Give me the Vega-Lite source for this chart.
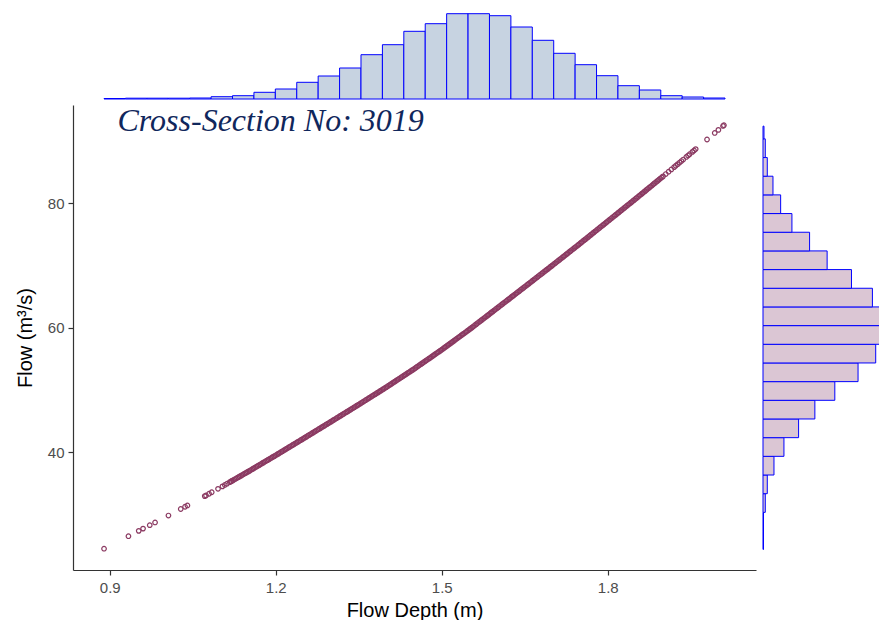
{
  "$schema": "https://vega.github.io/schema/vega-lite/v6.json",
  "background": "white",
  "padding": {"left": 15, "top": 0, "right": 0, "bottom": 0},
  "spacing": 5,
  "config": {
    "view": {"stroke": null},
    "font": "Liberation Sans",
    "axis": {
      "grid": false,
      "domainColor": "#333333",
      "domainWidth": 1.2,
      "tickColor": "#333333",
      "tickWidth": 1.2,
      "tickSize": 5,
      "labelColor": "#4D4D4D",
      "labelFont": "Liberation Sans",
      "labelFontSize": 15,
      "labelPadding": 4,
      "titleFont": "Liberation Sans",
      "titleFontSize": 20,
      "titleFontWeight": "normal",
      "titleColor": "#000000"
    }
  },
  "datasets": {
    "xhist": [
      {"x0": 0.8897, "x1": 0.9284, "count": 5},
      {"x0": 0.9284, "x1": 0.9671, "count": 8},
      {"x0": 0.9671, "x1": 1.0058, "count": 8},
      {"x0": 1.0058, "x1": 1.0445, "count": 8},
      {"x0": 1.0445, "x1": 1.0832, "count": 10},
      {"x0": 1.0832, "x1": 1.1219, "count": 23},
      {"x0": 1.1219, "x1": 1.1606, "count": 33},
      {"x0": 1.1606, "x1": 1.1993, "count": 67},
      {"x0": 1.1993, "x1": 1.2380, "count": 100},
      {"x0": 1.2380, "x1": 1.2767, "count": 167},
      {"x0": 1.2767, "x1": 1.3154, "count": 230},
      {"x0": 1.3154, "x1": 1.3541, "count": 310},
      {"x0": 1.3541, "x1": 1.3928, "count": 443},
      {"x0": 1.3928, "x1": 1.4315, "count": 543},
      {"x0": 1.4315, "x1": 1.4702, "count": 677},
      {"x0": 1.4702, "x1": 1.5089, "count": 753},
      {"x0": 1.5089, "x1": 1.5476, "count": 853},
      {"x0": 1.5476, "x1": 1.5863, "count": 853},
      {"x0": 1.5863, "x1": 1.6250, "count": 833},
      {"x0": 1.6250, "x1": 1.6637, "count": 720},
      {"x0": 1.6637, "x1": 1.7024, "count": 587},
      {"x0": 1.7024, "x1": 1.7411, "count": 457},
      {"x0": 1.7411, "x1": 1.7798, "count": 343},
      {"x0": 1.7798, "x1": 1.8185, "count": 233},
      {"x0": 1.8185, "x1": 1.8572, "count": 133},
      {"x0": 1.8572, "x1": 1.8959, "count": 90},
      {"x0": 1.8959, "x1": 1.9346, "count": 33},
      {"x0": 1.9346, "x1": 1.9733, "count": 20},
      {"x0": 1.9733, "x1": 2.0120, "count": 10}
    ],
    "yhist": [
      {"y0": 24.40, "y1": 27.36, "count": 5},
      {"y0": 27.36, "y1": 30.36, "count": 5},
      {"y0": 30.36, "y1": 33.36, "count": 23},
      {"y0": 33.36, "y1": 36.36, "count": 43},
      {"y0": 36.36, "y1": 39.36, "count": 110},
      {"y0": 39.36, "y1": 42.36, "count": 210},
      {"y0": 42.36, "y1": 45.36, "count": 357},
      {"y0": 45.36, "y1": 48.36, "count": 520},
      {"y0": 48.36, "y1": 51.36, "count": 720},
      {"y0": 51.36, "y1": 54.36, "count": 953},
      {"y0": 54.36, "y1": 57.36, "count": 1130},
      {"y0": 57.36, "y1": 60.36, "count": 1173},
      {"y0": 60.36, "y1": 63.36, "count": 1173},
      {"y0": 63.36, "y1": 66.36, "count": 1097},
      {"y0": 66.36, "y1": 69.36, "count": 887},
      {"y0": 69.36, "y1": 72.36, "count": 643},
      {"y0": 72.36, "y1": 75.36, "count": 467},
      {"y0": 75.36, "y1": 78.36, "count": 290},
      {"y0": 78.36, "y1": 81.36, "count": 177},
      {"y0": 81.36, "y1": 84.36, "count": 100},
      {"y0": 84.36, "y1": 87.36, "count": 43},
      {"y0": 87.36, "y1": 90.36, "count": 23},
      {"y0": 90.36, "y1": 92.40, "count": 10}
    ],
    "scatter": [
      {"depth":0.8897,"flow":24.52},{"depth":0.9338,"flow":26.53},{"depth":0.9524,"flow":27.39},{"depth":0.9602,"flow":27.75},
      {"depth":0.9723,"flow":28.30},{"depth":0.9819,"flow":28.74},{"depth":1.0061,"flow":29.85},{"depth":1.0283,"flow":30.90},
      {"depth":1.0361,"flow":31.26},{"depth":1.0404,"flow":31.47},{"depth":1.0717,"flow":32.97},{"depth":1.0740,"flow":33.08},
      {"depth":1.0795,"flow":33.35},{"depth":1.0843,"flow":33.59},{"depth":1.0957,"flow":34.14},{"depth":1.1037,"flow":34.54},
      {"depth":1.1080,"flow":34.76},{"depth":1.1120,"flow":34.96},{"depth":1.1169,"flow":35.21},{"depth":1.1190,"flow":35.32},
      {"depth":1.1200,"flow":35.37},{"depth":1.1225,"flow":35.50},{"depth":1.1250,"flow":35.63},{"depth":1.1275,"flow":35.75},
      {"depth":1.1300,"flow":35.88},{"depth":1.1325,"flow":36.01},{"depth":1.1350,"flow":36.14},{"depth":1.1375,"flow":36.26},
      {"depth":1.1400,"flow":36.39},{"depth":1.1425,"flow":36.52},{"depth":1.1450,"flow":36.65},{"depth":1.1475,"flow":36.77},
      {"depth":1.1500,"flow":36.90},{"depth":1.1525,"flow":37.03},{"depth":1.1550,"flow":37.16},{"depth":1.1575,"flow":37.29},
      {"depth":1.1600,"flow":37.43},{"depth":1.1625,"flow":37.56},{"depth":1.1650,"flow":37.69},{"depth":1.1675,"flow":37.82},
      {"depth":1.1700,"flow":37.95},{"depth":1.1725,"flow":38.08},{"depth":1.1750,"flow":38.22},{"depth":1.1775,"flow":38.35},
      {"depth":1.1800,"flow":38.48},{"depth":1.1825,"flow":38.61},{"depth":1.1850,"flow":38.74},{"depth":1.1875,"flow":38.87},
      {"depth":1.1900,"flow":39.00},{"depth":1.1925,"flow":39.14},{"depth":1.1950,"flow":39.27},{"depth":1.1975,"flow":39.40},
      {"depth":1.2000,"flow":39.53},{"depth":1.2025,"flow":39.66},{"depth":1.2050,"flow":39.80},{"depth":1.2075,"flow":39.93},
      {"depth":1.2100,"flow":40.07},{"depth":1.2125,"flow":40.20},{"depth":1.2150,"flow":40.34},{"depth":1.2175,"flow":40.47},
      {"depth":1.2200,"flow":40.61},{"depth":1.2225,"flow":40.74},{"depth":1.2250,"flow":40.88},{"depth":1.2275,"flow":41.01},
      {"depth":1.2300,"flow":41.14},{"depth":1.2325,"flow":41.28},{"depth":1.2350,"flow":41.41},{"depth":1.2375,"flow":41.55},
      {"depth":1.2400,"flow":41.68},{"depth":1.2425,"flow":41.82},{"depth":1.2450,"flow":41.95},{"depth":1.2475,"flow":42.09},
      {"depth":1.2500,"flow":42.22},{"depth":1.2525,"flow":42.36},{"depth":1.2550,"flow":42.49},{"depth":1.2575,"flow":42.63},
      {"depth":1.2600,"flow":42.76},{"depth":1.2625,"flow":42.90},{"depth":1.2650,"flow":43.04},{"depth":1.2675,"flow":43.17},
      {"depth":1.2700,"flow":43.31},{"depth":1.2725,"flow":43.44},{"depth":1.2750,"flow":43.58},{"depth":1.2775,"flow":43.72},
      {"depth":1.2800,"flow":43.85},{"depth":1.2825,"flow":43.99},{"depth":1.2850,"flow":44.12},{"depth":1.2875,"flow":44.26},
      {"depth":1.2900,"flow":44.40},{"depth":1.2925,"flow":44.53},{"depth":1.2950,"flow":44.67},{"depth":1.2975,"flow":44.80},
      {"depth":1.3000,"flow":44.94},{"depth":1.3025,"flow":45.08},{"depth":1.3050,"flow":45.21},{"depth":1.3075,"flow":45.35},
      {"depth":1.3100,"flow":45.49},{"depth":1.3125,"flow":45.63},{"depth":1.3150,"flow":45.76},{"depth":1.3175,"flow":45.90},
      {"depth":1.3200,"flow":46.04},{"depth":1.3225,"flow":46.17},{"depth":1.3250,"flow":46.31},{"depth":1.3275,"flow":46.45},
      {"depth":1.3300,"flow":46.58},{"depth":1.3325,"flow":46.72},{"depth":1.3350,"flow":46.86},{"depth":1.3375,"flow":47.00},
      {"depth":1.3400,"flow":47.13},{"depth":1.3425,"flow":47.27},{"depth":1.3450,"flow":47.41},{"depth":1.3475,"flow":47.54},
      {"depth":1.3500,"flow":47.68},{"depth":1.3525,"flow":47.82},{"depth":1.3550,"flow":47.96},{"depth":1.3575,"flow":48.10},
      {"depth":1.3600,"flow":48.24},{"depth":1.3625,"flow":48.38},{"depth":1.3650,"flow":48.52},{"depth":1.3675,"flow":48.66},
      {"depth":1.3700,"flow":48.80},{"depth":1.3725,"flow":48.94},{"depth":1.3750,"flow":49.08},{"depth":1.3775,"flow":49.22},
      {"depth":1.3800,"flow":49.36},{"depth":1.3825,"flow":49.50},{"depth":1.3850,"flow":49.64},{"depth":1.3875,"flow":49.78},
      {"depth":1.3900,"flow":49.92},{"depth":1.3925,"flow":50.06},{"depth":1.3950,"flow":50.20},{"depth":1.3975,"flow":50.34},
      {"depth":1.4000,"flow":50.48},{"depth":1.4025,"flow":50.63},{"depth":1.4050,"flow":50.77},{"depth":1.4075,"flow":50.92},
      {"depth":1.4100,"flow":51.06},{"depth":1.4125,"flow":51.21},{"depth":1.4150,"flow":51.36},{"depth":1.4175,"flow":51.50},
      {"depth":1.4200,"flow":51.65},{"depth":1.4225,"flow":51.79},{"depth":1.4250,"flow":51.94},{"depth":1.4275,"flow":52.09},
      {"depth":1.4300,"flow":52.23},{"depth":1.4325,"flow":52.38},{"depth":1.4350,"flow":52.52},{"depth":1.4375,"flow":52.67},
      {"depth":1.4400,"flow":52.82},{"depth":1.4425,"flow":52.96},{"depth":1.4450,"flow":53.11},{"depth":1.4475,"flow":53.25},
      {"depth":1.4500,"flow":53.40},{"depth":1.4525,"flow":53.55},{"depth":1.4550,"flow":53.71},{"depth":1.4575,"flow":53.86},
      {"depth":1.4600,"flow":54.02},{"depth":1.4625,"flow":54.17},{"depth":1.4650,"flow":54.33},{"depth":1.4675,"flow":54.48},
      {"depth":1.4700,"flow":54.64},{"depth":1.4725,"flow":54.79},{"depth":1.4750,"flow":54.95},{"depth":1.4775,"flow":55.10},
      {"depth":1.4800,"flow":55.25},{"depth":1.4825,"flow":55.41},{"depth":1.4850,"flow":55.56},{"depth":1.4875,"flow":55.72},
      {"depth":1.4900,"flow":55.87},{"depth":1.4925,"flow":56.03},{"depth":1.4950,"flow":56.18},{"depth":1.4975,"flow":56.34},
      {"depth":1.5000,"flow":56.49},{"depth":1.5025,"flow":56.65},{"depth":1.5050,"flow":56.82},{"depth":1.5075,"flow":56.98},
      {"depth":1.5100,"flow":57.14},{"depth":1.5125,"flow":57.30},{"depth":1.5150,"flow":57.47},{"depth":1.5175,"flow":57.63},
      {"depth":1.5200,"flow":57.79},{"depth":1.5225,"flow":57.95},{"depth":1.5250,"flow":58.12},{"depth":1.5275,"flow":58.28},
      {"depth":1.5300,"flow":58.44},{"depth":1.5325,"flow":58.60},{"depth":1.5350,"flow":58.77},{"depth":1.5375,"flow":58.93},
      {"depth":1.5400,"flow":59.09},{"depth":1.5425,"flow":59.25},{"depth":1.5450,"flow":59.42},{"depth":1.5475,"flow":59.58},
      {"depth":1.5500,"flow":59.74},{"depth":1.5525,"flow":59.91},{"depth":1.5550,"flow":60.08},{"depth":1.5575,"flow":60.25},
      {"depth":1.5600,"flow":60.42},{"depth":1.5625,"flow":60.60},{"depth":1.5650,"flow":60.77},{"depth":1.5675,"flow":60.94},
      {"depth":1.5700,"flow":61.11},{"depth":1.5725,"flow":61.28},{"depth":1.5750,"flow":61.45},{"depth":1.5775,"flow":61.62},
      {"depth":1.5800,"flow":61.79},{"depth":1.5825,"flow":61.96},{"depth":1.5850,"flow":62.13},{"depth":1.5875,"flow":62.31},
      {"depth":1.5900,"flow":62.48},{"depth":1.5925,"flow":62.65},{"depth":1.5950,"flow":62.82},{"depth":1.5975,"flow":62.99},
      {"depth":1.6000,"flow":63.16},{"depth":1.6025,"flow":63.33},{"depth":1.6050,"flow":63.50},{"depth":1.6075,"flow":63.67},
      {"depth":1.6100,"flow":63.85},{"depth":1.6125,"flow":64.02},{"depth":1.6150,"flow":64.19},{"depth":1.6175,"flow":64.36},
      {"depth":1.6200,"flow":64.53},{"depth":1.6225,"flow":64.70},{"depth":1.6250,"flow":64.88},{"depth":1.6275,"flow":65.05},
      {"depth":1.6300,"flow":65.22},{"depth":1.6325,"flow":65.39},{"depth":1.6350,"flow":65.56},{"depth":1.6375,"flow":65.73},
      {"depth":1.6400,"flow":65.90},{"depth":1.6425,"flow":66.08},{"depth":1.6450,"flow":66.25},{"depth":1.6475,"flow":66.42},
      {"depth":1.6500,"flow":66.59},{"depth":1.6525,"flow":66.76},{"depth":1.6550,"flow":66.94},{"depth":1.6575,"flow":67.11},
      {"depth":1.6600,"flow":67.28},{"depth":1.6625,"flow":67.45},{"depth":1.6650,"flow":67.63},{"depth":1.6675,"flow":67.80},
      {"depth":1.6700,"flow":67.97},{"depth":1.6725,"flow":68.14},{"depth":1.6750,"flow":68.32},{"depth":1.6775,"flow":68.49},
      {"depth":1.6800,"flow":68.66},{"depth":1.6825,"flow":68.83},{"depth":1.6850,"flow":69.01},{"depth":1.6875,"flow":69.18},
      {"depth":1.6900,"flow":69.35},{"depth":1.6925,"flow":69.52},{"depth":1.6950,"flow":69.70},{"depth":1.6975,"flow":69.87},
      {"depth":1.7000,"flow":70.04},{"depth":1.7025,"flow":70.22},{"depth":1.7050,"flow":70.39},{"depth":1.7075,"flow":70.57},
      {"depth":1.7100,"flow":70.74},{"depth":1.7125,"flow":70.92},{"depth":1.7150,"flow":71.09},{"depth":1.7175,"flow":71.27},
      {"depth":1.7200,"flow":71.44},{"depth":1.7225,"flow":71.62},{"depth":1.7250,"flow":71.80},{"depth":1.7275,"flow":71.97},
      {"depth":1.7300,"flow":72.15},{"depth":1.7325,"flow":72.32},{"depth":1.7350,"flow":72.50},{"depth":1.7375,"flow":72.67},
      {"depth":1.7400,"flow":72.85},{"depth":1.7425,"flow":73.02},{"depth":1.7450,"flow":73.20},{"depth":1.7475,"flow":73.37},
      {"depth":1.7500,"flow":73.55},{"depth":1.7525,"flow":73.73},{"depth":1.7550,"flow":73.91},{"depth":1.7575,"flow":74.09},
      {"depth":1.7600,"flow":74.26},{"depth":1.7625,"flow":74.44},{"depth":1.7650,"flow":74.62},{"depth":1.7675,"flow":74.80},
      {"depth":1.7700,"flow":74.98},{"depth":1.7725,"flow":75.16},{"depth":1.7750,"flow":75.34},{"depth":1.7775,"flow":75.51},
      {"depth":1.7800,"flow":75.69},{"depth":1.7825,"flow":75.87},{"depth":1.7850,"flow":76.05},{"depth":1.7875,"flow":76.23},
      {"depth":1.7900,"flow":76.41},{"depth":1.7925,"flow":76.58},{"depth":1.7950,"flow":76.76},{"depth":1.7975,"flow":76.94},
      {"depth":1.8000,"flow":77.12},{"depth":1.8025,"flow":77.30},{"depth":1.8050,"flow":77.48},{"depth":1.8075,"flow":77.66},
      {"depth":1.8100,"flow":77.84},{"depth":1.8125,"flow":78.02},{"depth":1.8150,"flow":78.19},{"depth":1.8175,"flow":78.37},
      {"depth":1.8200,"flow":78.55},{"depth":1.8225,"flow":78.73},{"depth":1.8250,"flow":78.91},{"depth":1.8275,"flow":79.09},
      {"depth":1.8300,"flow":79.27},{"depth":1.8325,"flow":79.45},{"depth":1.8350,"flow":79.63},{"depth":1.8375,"flow":79.81},
      {"depth":1.8400,"flow":79.98},{"depth":1.8425,"flow":80.16},{"depth":1.8450,"flow":80.34},{"depth":1.8475,"flow":80.52},
      {"depth":1.8500,"flow":80.70},{"depth":1.8525,"flow":80.88},{"depth":1.8550,"flow":81.06},{"depth":1.8575,"flow":81.25},
      {"depth":1.8600,"flow":81.43},{"depth":1.8625,"flow":81.61},{"depth":1.8650,"flow":81.79},{"depth":1.8675,"flow":81.97},
      {"depth":1.8700,"flow":82.16},{"depth":1.8725,"flow":82.34},{"depth":1.8750,"flow":82.52},{"depth":1.8775,"flow":82.70},
      {"depth":1.8800,"flow":82.88},{"depth":1.8825,"flow":83.07},{"depth":1.8850,"flow":83.25},{"depth":1.8875,"flow":83.43},
      {"depth":1.8900,"flow":83.61},{"depth":1.8925,"flow":83.79},{"depth":1.8950,"flow":83.98},{"depth":1.8975,"flow":84.16},
      {"depth":1.9000,"flow":84.34},{"depth":1.9050,"flow":84.71},{"depth":1.9100,"flow":85.08},{"depth":1.9150,"flow":85.45},
      {"depth":1.9200,"flow":85.82},{"depth":1.9230,"flow":86.04},{"depth":1.9265,"flow":86.30},{"depth":1.9300,"flow":86.56},
      {"depth":1.9332,"flow":86.80},{"depth":1.9365,"flow":87.04},{"depth":1.9420,"flow":87.45},{"depth":1.9452,"flow":87.68},
      {"depth":1.9480,"flow":87.89},{"depth":1.9530,"flow":88.27},{"depth":1.9560,"flow":88.49},{"depth":1.9590,"flow":88.72},
      {"depth":1.9795,"flow":90.26},{"depth":1.9934,"flow":91.31},{"depth":2.0000,"flow":91.80},{"depth":2.0084,"flow":92.43},
      {"depth":2.0100,"flow":92.55}
    ]
  },
  "vconcat": [
    {
      "width": 683,
      "height": 99,
      "data": {"name": "xhist"},
      "mark": {"type": "rect", "fill": "#C7D3E1", "stroke": "#0000FF", "strokeWidth": 1},
      "encoding": {
        "x": {"field": "x0", "type": "quantitative", "scale": {"domain": [0.8336, 2.068], "nice": false, "zero": false}, "axis": null},
        "x2": {"field": "x1"},
        "y": {"field": "count", "type": "quantitative", "scale": {"domain": [0, 990], "nice": false}, "axis": null},
        "y2": {"datum": 0}
      }
    },
    {
      "spacing": 6,
      "hconcat": [
        {
          "width": 683,
          "height": 465,
          "layer": [
            {
              "data": {"name": "scatter"},
              "mark": {"type": "point", "shape": "circle", "filled": false, "color": "#8B3A62", "size": 21, "strokeWidth": 1.2, "opacity": 1},
              "encoding": {
                "x": {
                  "field": "depth", "type": "quantitative",
                  "scale": {"domain": [0.8336, 2.068], "nice": false, "zero": false},
                  "axis": {"title": "Flow Depth (m)", "values": [0.9, 1.2, 1.5, 1.8], "format": ".1f", "titlePadding": 5, "labelPadding": 5}
                },
                "y": {
                  "field": "flow", "type": "quantitative",
                  "scale": {"domain": [21.1, 95.8], "nice": false, "zero": false},
                  "axis": {"title": "Flow (m³/s)", "values": [40, 60, 80], "titlePadding": 12}
                }
              }
            },
            {
              "data": {"values": [{"label": "Cross-Section No: 3019"}]},
              "mark": {"type": "text", "font": "Liberation Serif", "fontStyle": "italic", "fontSize": 32, "color": "#10275C", "align": "left", "baseline": "alphabetic"},
              "encoding": {
                "x": {"datum": 0.914},
                "y": {"datum": 91.6},
                "text": {"field": "label"}
              }
            }
          ]
        },
        {
          "width": 117,
          "height": 465,
          "data": {"name": "yhist"},
          "mark": {"type": "rect", "fill": "#DBC6D4", "stroke": "#0000FF", "strokeWidth": 1},
          "encoding": {
            "y": {"field": "y0", "type": "quantitative", "scale": {"domain": [21.1, 95.8], "nice": false, "zero": false}, "axis": null},
            "y2": {"field": "y1"},
            "x": {"field": "count", "type": "quantitative", "scale": {"domain": [0, 1173], "nice": false}, "axis": null},
            "x2": {"datum": 0}
          }
        }
      ]
    }
  ]
}
